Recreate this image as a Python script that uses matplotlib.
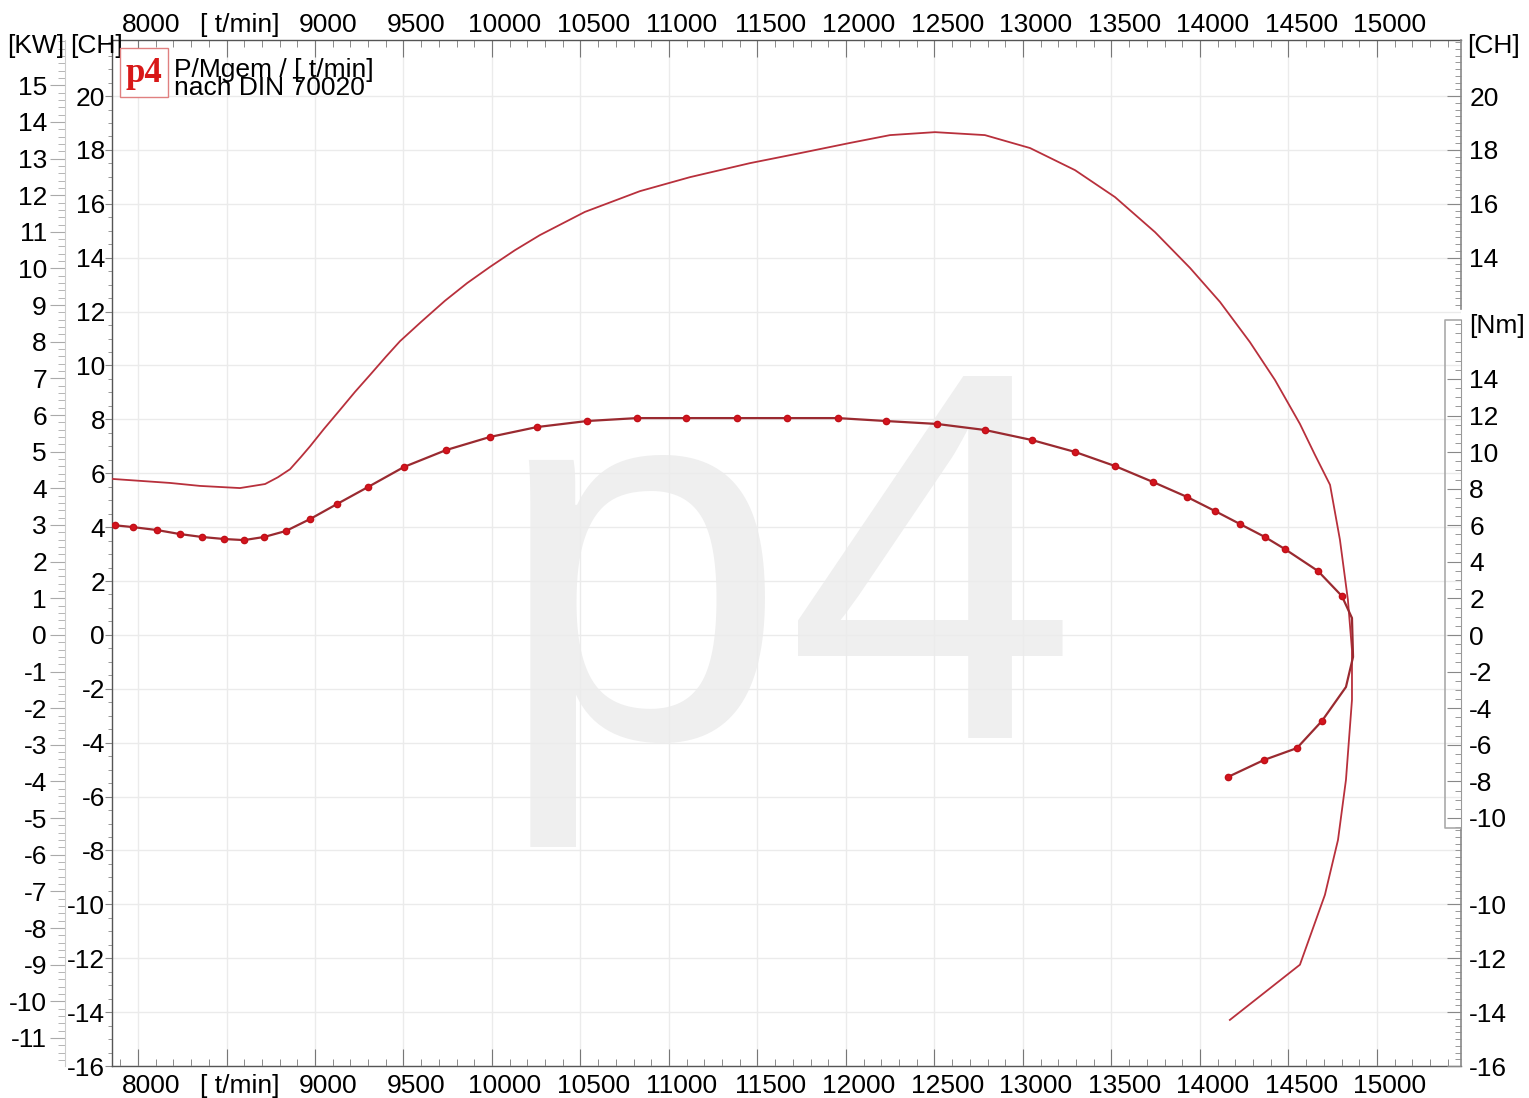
import matplotlib.pyplot as plt
import matplotlib.transforms as mtransforms
from matplotlib.patches import Rectangle
from matplotlib.ticker import MultipleLocator, FixedLocator
import numpy as np

# Daten
rpm_power = [7853, 8181, 8350, 8576, 8718, 8790, 8859, 8920, 8972, 9050, 9141, 9226,
             9311, 9400, 9480, 9600, 9734, 9860, 9989, 10130, 10271, 10525, 10836,
             11119, 11458, 11740, 12023, 12249, 12503, 12785, 13040, 13294, 13520,
             13746, 13944, 14113, 14282, 14424, 14565, 14650, 14735, 14791, 14836,
             14859, 14859, 14825, 14780, 14706, 14565, 14169]
power_ch = [5.79, 5.64, 5.53, 5.45, 5.60, 5.85, 6.15, 6.60, 7.00, 7.64, 8.35, 9.02,
            9.65, 10.32, 10.90, 11.62, 12.40, 13.06, 13.66, 14.28, 14.84, 15.70, 16.47,
            16.99, 17.51, 17.88, 18.26, 18.55, 18.66, 18.55, 18.07, 17.25, 16.25,
            14.95, 13.62, 12.36, 10.87, 9.46, 7.83, 6.68, 5.57, 3.53, 1.30,
            -0.56, -2.41, -5.38, -7.61, -9.65, -12.24, -14.29]

rpm_torque = [7870, 7972, 8107, 8237, 8362, 8486, 8599, 8712, 8836, 8972, 9124, 9299,
              9503, 9740, 9989, 10254, 10537, 10819, 11096, 11384, 11667, 11955,
              12226, 12514, 12785, 13051, 13294, 13520, 13734, 13927, 14085, 14226,
              14367, 14480, 14667, 14802, 14859, 14865, 14825, 14689, 14548, 14362, 14158]
torque_nm = [6.00, 5.90, 5.74, 5.52, 5.36, 5.25, 5.19, 5.36, 5.69, 6.34, 7.16, 8.09,
             9.19, 10.11, 10.83, 11.37, 11.70, 11.86, 11.86, 11.86, 11.86, 11.86,
             11.70, 11.54, 11.21, 10.66, 10.01, 9.24, 8.37, 7.55, 6.78, 6.07,
             5.36, 4.70, 3.50, 2.13, 0.93, -1.20, -2.84, -4.70, -6.18, -6.83, -7.76]
torque_no_marker = [36, 37, 38]

x_ticks = list(range(8000, 15001, 500))
x_labels = ["8000", "[ t/min]"] + [str(v) for v in range(9000, 15001, 500)]
kw_ticks = list(range(-11, 16))
ch_left_ticks = list(range(-16, 21, 2))
ch_right_ticks = [14, 16, 18, 20, -10, -12, -14, -16]
nm_ticks = list(range(-10, 15, 2))

W, H = 1529, 1098
plt.rcParams['font.family'] = ['Liberation Sans', 'DejaVu Sans']
FS = 19

fig = plt.figure(figsize=(W / 100, H / 100), dpi=100)
fig.patch.set_facecolor('white')


def px(x, y):
    return x / W, 1 - y / H


left, right, top, bottom = 112, 1461, 40, 1066
ax = fig.add_axes([left / W, 1 - bottom / H, (right - left) / W, (bottom - top) / H])
ax.set_xlim(7853, 15475)
ax.set_ylim(-15.99, 22.08)

# Wasserzeichen
ax.text(0.5, 0.32, "p4", transform=ax.transAxes, ha='center', va='baseline',
        fontsize=378, color='#efefef', zorder=0)

ax.grid(True, which='major', color='#ebebeb', lw=1, zorder=0.5)
ax.set_axisbelow(True)

# x-Achse oben und unten
ax.set_xticks(x_ticks)
ax.set_xticklabels(x_labels, fontsize=FS)
ax.xaxis.set_minor_locator(MultipleLocator(100))
ax.tick_params(axis='x', which='both', direction='in', top=True, bottom=True,
               labeltop=True, labelbottom=True, color='#777777', pad=6)
ax.tick_params(axis='x', which='major', length=12)
ax.tick_params(axis='x', which='minor', length=5)
off_bot = mtransforms.ScaledTranslation(13 / 100, 0, fig.dpi_scale_trans)
off_top = mtransforms.ScaledTranslation(13 / 100, -5 / 100, fig.dpi_scale_trans)
for t in ax.xaxis.get_major_ticks():
    t.label1.set_transform(t.label1.get_transform() + off_bot)
    t.label2.set_transform(t.label2.get_transform() + off_top)

# CH links
ax.set_yticks(ch_left_ticks)
ax.set_yticklabels([str(v) for v in ch_left_ticks], fontsize=FS)
ax.yaxis.set_minor_locator(MultipleLocator(0.5))
ax.tick_params(axis='y', which='both', direction='out', color='#888888', pad=0)
ax.tick_params(axis='y', which='major', length=5)
ax.tick_params(axis='y', which='minor', length=3)
for s in ['top', 'bottom', 'left']:
    ax.spines[s].set_color('#555555')
    ax.spines[s].set_linewidth(1)
ax.spines['right'].set_visible(False)

# KW links
kw = ax.secondary_yaxis((65 - left) / (right - left),
                        functions=(lambda c: c / 1.36, lambda k: k * 1.36))
kw.set_yticks(kw_ticks)
kw.set_yticklabels([str(v) for v in kw_ticks], fontsize=FS)
kw.yaxis.set_minor_locator(MultipleLocator(0.2))
kw.tick_params(which='both', direction='out', color='#aaaaaa', pad=2)
kw.tick_params(which='major', length=11)
kw.tick_params(which='minor', length=5)
kw.spines['left'].set_color('#cccccc')

# CH rechts (zwei Abschnitte)
ax_chr = ax.twinx()
ax_chr.set_ylim(ax.get_ylim())
ax_chr.set_yticks(ch_right_ticks)
ax_chr.set_yticklabels([str(v) for v in ch_right_ticks], fontsize=FS)
minor_r = list(np.arange(12.25, 22.01, 0.25)) + list(np.arange(-16, -7.2, 0.25))
ax_chr.yaxis.set_minor_locator(FixedLocator(minor_r))
ax_chr.tick_params(which='both', direction='in', color='#888888', pad=6)
ax_chr.tick_params(which='major', length=10)
ax_chr.tick_params(which='minor', length=4)
for s in ax_chr.spines.values():
    s.set_visible(False)
yt = ax_chr.get_yaxis_transform()
ax_chr.plot([1, 1], [12.1, 22.08], transform=yt, color='#888888', lw=1.2, clip_on=False)
ax_chr.plot([1, 1], [-15.99, -7.2], transform=yt, color='#888888', lw=1.2, clip_on=False)

# Nm rechts
ax_nm = ax.twinx()
ax_nm.set_ylim(-23.56, 32.53)
ax_nm.set_yticks(nm_ticks)
ax_nm.set_yticklabels([str(v) for v in nm_ticks], fontsize=FS)
ax_nm.yaxis.set_minor_locator(FixedLocator(list(np.arange(-10.5, 17.01, 0.5))))
ax_nm.tick_params(which='both', direction='in', color='#888888', pad=6)
ax_nm.tick_params(which='major', length=10)
ax_nm.tick_params(which='minor', length=4)
for s in ['top', 'bottom', 'left']:
    ax_nm.spines[s].set_visible(False)
ax_nm.spines['right'].set_bounds(-10.55, 17.22)
ax_nm.spines['right'].set_color('#999999')
xb = (1445 - left) / (right - left)
nt = ax_nm.get_yaxis_transform()
ax_nm.plot([1, xb, xb, 1], [17.22, 17.22, -10.55, -10.55], transform=nt,
           color='#aaaaaa', lw=1.2, clip_on=False)

# Kurven
ax.plot(rpm_power, power_ch, color='#b8303c', lw=1.3, zorder=3)
marks = [i for i in range(len(rpm_torque)) if i not in torque_no_marker]
ax_nm.plot(rpm_torque, torque_nm, color='#9a2a30', lw=1.6, marker='o',
           markersize=4.5, markerfacecolor='#d4141e', markeredgecolor='#c01018',
           markevery=marks, zorder=3)

# Achsentitel
fig.text(*px(7, 46), "[KW]", fontsize=FS, va='center', ha='left')
fig.text(*px(70, 46), "[CH]", fontsize=FS, va='center', ha='left')
fig.text(*px(1467, 46), "[CH]", fontsize=FS, va='center', ha='left')
fig.text(*px(1469, 326), "[Nm]", fontsize=FS, va='center', ha='left')

# Logo
fig.add_artist(Rectangle(px(120, 97), 48 / W, 49 / H, transform=fig.transFigure,
                         facecolor='white', edgecolor='#e08080', lw=1, zorder=5))
fig.text(*px(144, 74), "p4", fontsize=25, family=['Liberation Serif', 'DejaVu Serif'],
         fontweight='bold', color='#d81818', ha='center', va='center', zorder=6)
fig.text(*px(174, 79), "P/Mgem / [ t/min]\nnach DIN 70020", fontsize=FS,
         va='center', ha='left', linespacing=0.72, zorder=6)

fig.savefig("out.png", dpi=100)
